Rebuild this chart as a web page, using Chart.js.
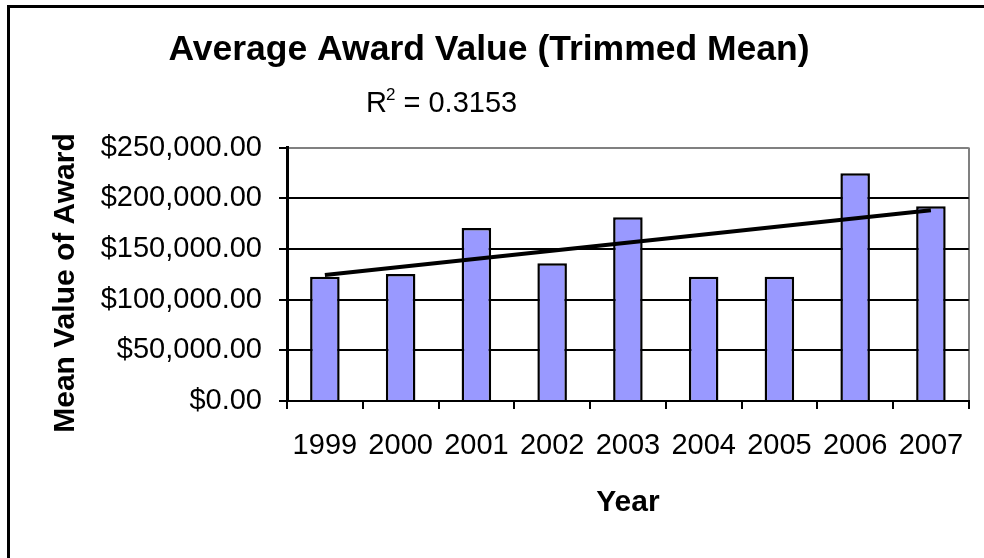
<!DOCTYPE html>
<html>
<head>
<meta charset="utf-8">
<script src="https://cdn.jsdelivr.net/npm/chart.js@4/dist/chart.umd.min.js"></script>
<style>
  html, body { margin: 0; padding: 0; background: #fff; }
  .frame { position: relative; width: 984px; height: 558px; overflow: hidden; }
  .frame__border { position: absolute; left: 7px; top: 5px; right: -10px; bottom: -10px; border-top: 3px solid #000; border-left: 3px solid #000; pointer-events: none; }
  canvas { display: block; }
</style>
</head>
<body>
<div class="frame">
  <canvas id="myChart" width="984" height="558"></canvas>
  <div class="frame__border"></div>
</div>
<script>
const years = ['1999', '2000', '2001', '2002', '2003', '2004', '2005', '2006', '2007'];
const awardValues = [122600, 125300, 170700, 135900, 181300, 122600, 122600, 224700, 192100];
// linear trendline, endpoints
const trendValues = [124200, null, null, null, null, null, null, null, 188300];
const yTickLabels = ['$0.00', '$50,000.00', '$100,000.00', '$150,000.00', '$200,000.00', '$250,000.00'];
const rSquared = '0.3153';

const FONT = "'Liberation Sans', Arial, sans-serif";
const ctx = document.getElementById('myChart').getContext('2d');

// R² label of the trendline and the y axis title, placed like the Excel ones
const extraLabels = {
  id: 'extraLabels',
  afterDraw(chart) {
    const c = chart.ctx;
    c.save();
    c.fillStyle = '#000';
    c.textBaseline = 'alphabetic';
    c.textAlign = 'left';
    let x = 366;
    c.font = `29px ${FONT}`;
    c.fillText('R', x, 112);
    x += c.measureText('R').width;
    c.font = `17px ${FONT}`;
    c.fillText('2', x - 1, 100);
    x += c.measureText('2').width - 1;
    c.font = `29px ${FONT}`;
    c.fillText(` = ${rSquared}`, x, 112);

    // y axis title
    c.translate(66, 283);
    c.rotate(-Math.PI / 2);
    c.textAlign = 'center';
    c.textBaseline = 'middle';
    c.font = `bold 30px ${FONT}`;
    c.fillText('Mean Value of Award', 0, 0);
    c.restore();
  },
};

const chart = new Chart(ctx, {
  type: 'bar',
  data: {
    labels: years,
    datasets: [{
      type: 'line',
      data: trendValues,
      borderColor: '#000',
      borderWidth: 4,
      pointRadius: 0,
      spanGaps: true,
      fill: false,
      order: 0,
    }, {
      data: awardValues,
      backgroundColor: '#9999FF',
      borderColor: '#000',
      borderWidth: 2.5,
      barPercentage: 0.39,
      categoryPercentage: 1,
      order: 1,
    }],
  },
  options: {
    responsive: false,
    animation: false,
    layout: { padding: { left: 0, right: 6, top: 0, bottom: 37 } },
    plugins: {
      legend: { display: false },
      tooltip: { enabled: false },
      title: {
        display: true,
        text: 'Average Award Value (Trimmed Mean)',
        color: '#000',
        font: { family: FONT, size: 35.5, weight: 'bold' },
        padding: { top: 28.5, bottom: 76.5 },
      },
    },
    scales: {
      x: {
        offset: true,
        grid: {
          offset: true,
          drawOnChartArea: true,
          lineWidth: 2,
          color: (c) => (c.type === 'scale' ? '#808080' : 'rgba(0,0,0,0)'),
          tickColor: '#000',
          tickLength: 8,
        },
        border: { color: '#000', width: 2 },
        ticks: { color: '#000', padding: 20, font: { family: FONT, size: 29 } },
        title: {
          display: true,
          text: 'Year',
          color: '#000',
          font: { family: FONT, size: 30, weight: 'bold' },
          padding: 0,
        },
        afterFit(scale) { scale.height = 120; },
      },
      y: {
        min: 0,
        max: 250000,
        grid: {
          lineWidth: 2,
          color: (c) => (c.tick && c.tick.value === 250000 ? '#808080' : '#000'),
          tickColor: '#000',
          tickLength: 8,
        },
        border: { color: '#000', width: 3 },
        ticks: {
          stepSize: 50000,
          color: '#000',
          padding: 17,
          font: { family: FONT, size: 29 },
          callback: (value, index) => yTickLabels[index],
        },
        afterFit(scale) { scale.width = 287; },
      },
      // empty right-hand box so the plot ends where the reference's does
      y2: {
        position: 'right',
        grid: { display: false },
        border: { display: false },
        ticks: { display: false },
        afterFit(scale) { scale.width = 9; },
      },
    },
  },
  plugins: [extraLabels],
});
</script>
</body>
</html>
